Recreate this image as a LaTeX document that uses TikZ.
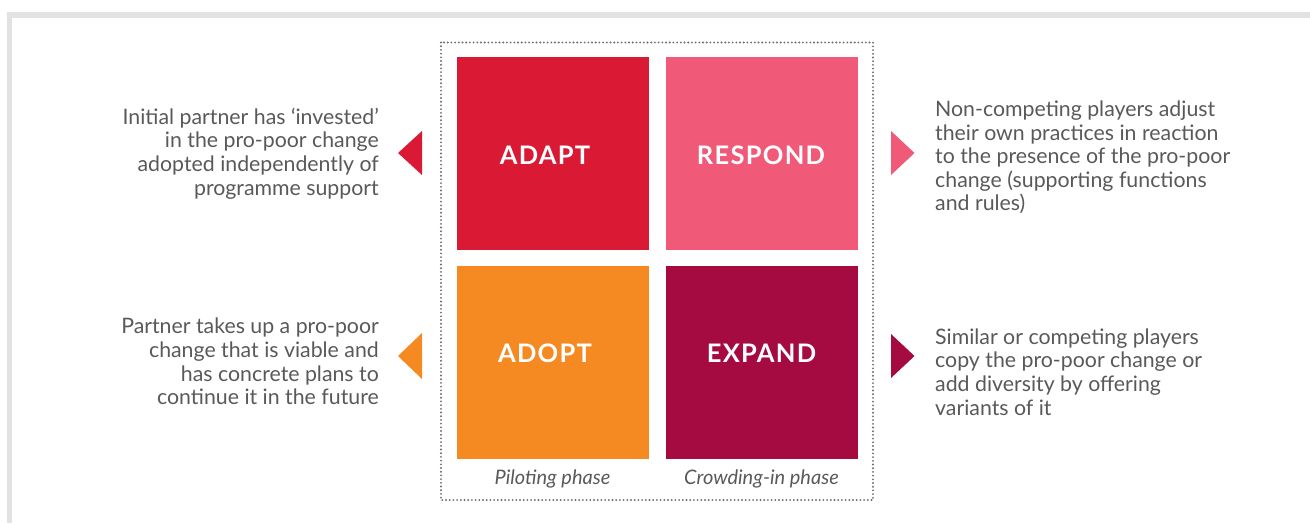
\documentclass[tikz,border=0pt]{standalone}
\usepackage{fontspec}
\setmainfont{Lato}
\definecolor{adaptc}{HTML}{DA1A35}
\definecolor{respondc}{HTML}{F05A78}
\definecolor{adoptc}{HTML}{F58A22}
\definecolor{expandc}{HTML}{A50A40}
\definecolor{txtc}{HTML}{58595B}
\definecolor{framec}{HTML}{E1E2E3}
\definecolor{dotc}{HTML}{6D6E70}
\tikzset{
  sq/.style={minimum width=192pt, minimum height=193pt, inner sep=0pt, outer sep=0pt, draw=none},
  sqlbl/.style={text=white, inner sep=0pt, font=\fontsize{25.5}{28}\selectfont\bfseries\addfontfeature{LetterSpace=5}},
  body/.style={text=txtc, inner sep=0pt, font=\fontsize{21.3}{23.6}\selectfont},
  phase/.style={text=txtc, inner sep=0pt, font=\fontsize{20}{22}\selectfont\itshape},
  dotbox/.style={draw=dotc, line width=2.1pt, line cap=round, dash pattern=on 0pt off 3.7pt}
}
\begin{document}
\begin{tikzpicture}[x=1pt,y=-1pt]
\useasboundingbox (0,0) rectangle (1310,523);
% outer frame
\fill[framec] (7,12) rectangle (1310,18);
\fill[framec] (7,12) rectangle (12,523);
% dotted box
\draw[dotbox] (441,42.5) rectangle (873,500);
% squares
\node[sq, fill=adaptc, anchor=north west] (adapt) at (457,57) {};
\node[sq, fill=respondc, anchor=north west] (respond) at (666,57) {};
\node[sq, fill=adoptc, anchor=north west] (adopt) at (457,266) {};
\node[sq, fill=expandc, anchor=north west] (expand) at (666,266) {};
% square labels
\node[sqlbl] (adaptl) at (545,155.5) {ADAPT};
\node[sqlbl] (respondl) at (761,155.5) {RESPOND};
\node[sqlbl] (adoptl) at (545,353) {ADOPT};
\node[sqlbl] (expandl) at (761.5,353) {EXPAND};
% phases
\node[phase] (pilot) at (552.5,479) {Piloting phase};
\node[phase] (crowd) at (761.5,479) {Crowding-in phase};
% triangles
\fill[adaptc] (422,131) -- (398,153) -- (422,175) -- cycle;
\fill[adoptc] (422,333) -- (398,356) -- (422,379) -- cycle;
\fill[respondc] (891,131) -- (914.5,153) -- (891,175) -- cycle;
\fill[expandc] (891,334) -- (914.5,356) -- (891,378) -- cycle;
% texts
\node[body, align=right, anchor=east] (ltop) at (379,153.5) {Initial partner has ‘invested’\\in the pro-poor change\\adopted independently of\\programme support};
\node[body, align=right, anchor=east] (lbot) at (379,361.5) {Partner takes up a pro-poor\\change that is viable and\\has concrete plans to\\continue it in the future};
\node[body, align=left, anchor=west] (rtop) at (935,157.5) {Non-competing players adjust\\their own practices in reaction\\to the presence of the pro-poor\\change (supporting functions\\and rules)};
\node[body, align=left, anchor=west] (rbot) at (935,372) {Similar or competing players\\copy the pro-poor change or\\add diversity by offering\\variants of it};
\end{tikzpicture}
\end{document}
